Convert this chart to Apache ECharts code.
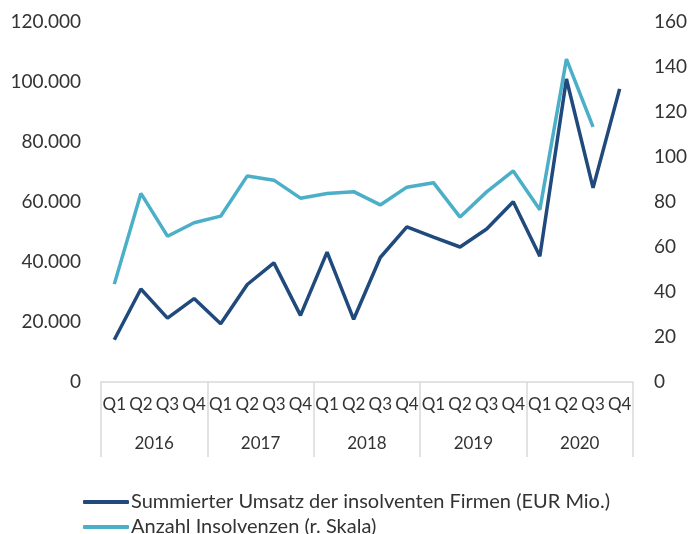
<!DOCTYPE html>
<html>
<head>
<meta charset="utf-8">
<script src="https://cdn.jsdelivr.net/npm/echarts@6/dist/echarts.min.js"></script>
<style>
  html, body { margin: 0; padding: 0; background: #fff; }
  #chart { width: 690px; height: 534px; }
</style>
</head>
<body>
<div id="chart"></div>
<script>
const quarters = ['Q1', 'Q2', 'Q3', 'Q4', 'Q1', 'Q2', 'Q3', 'Q4', 'Q1', 'Q2', 'Q3', 'Q4',
  'Q1', 'Q2', 'Q3', 'Q4', 'Q1', 'Q2', 'Q3', 'Q4']
const years = ['2016', '2017', '2018', '2019', '2020']

// EUR Mio., left axis
const umsatz = [14100, 31000, 21300, 27800, 19400, 32500, 39700, 22200, 43300, 20900, 41500, 51700,
  48300, 45000, 51000, 60100, 41900, 101000, 64700, 97700]
// count, right axis
const insolvenzen = [43.5, 83.8, 64.8, 70.8, 73.7, 91.6, 89.7, 81.7, 83.8, 84.6, 78.7, 86.6,
  88.6, 73.3, 84.5, 93.8, 76.6, 143.5, 113.4, null]

const leftTicks = { min: 0, max: 120000, interval: 20000 }
const rightTicks = { min: 0, max: 160, interval: 20 }

const font = 'Lato, "Open Sans", sans-serif'
const textColor = '#333'
const gridLine = '#d9d9d9'

const chart = echarts.init(document.getElementById('chart'))

chart.setOption({
  animation: false,
  textStyle: { fontFamily: font },
  grid: { left: 101, right: 56, top: 22, bottom: 152 },
  legend: {
    orient: 'vertical',
    left: 78,
    top: 485,
    height: 49,
    itemWidth: 46,
    itemHeight: 4,
    itemGap: 1,
    icon: 'roundRect',
    textStyle: { fontSize: 20, lineHeight: 24, color: textColor, fontFamily: font, padding: [0, 0, 0, -3] },
    data: ['Summierter Umsatz der insolventen Firmen (EUR Mio.)', 'Anzahl Insolvenzen (r. Skala)'],
  },
  xAxis: [
    {
      type: 'category',
      data: quarters,
      boundaryGap: true,
      axisLine: { lineStyle: { color: gridLine, width: 1.5 } },
      axisTick: { show: false },
      axisLabel: { color: textColor, fontSize: 17, margin: 14, interval: 0 },
    },
    {
      type: 'category',
      data: years,
      position: 'bottom',
      boundaryGap: true,
      axisLine: { show: false },
      axisTick: { show: true, length: 75, lineStyle: { color: gridLine, width: 1.5 } },
      axisLabel: { color: textColor, fontSize: 17, margin: 53, interval: 0 },
    },
  ],
  yAxis: [
    {
      type: 'value',
      ...leftTicks,
      splitLine: { show: false },
      axisLine: { show: false },
      axisTick: { show: false },
      axisLabel: {
        color: textColor,
        fontSize: 19,
        margin: 20,
        formatter: v => v === 0 ? '0' : (v / 1000).toFixed(0) + '.000',
      },
    },
    {
      type: 'value',
      ...rightTicks,
      splitLine: { show: false },
      axisLine: { show: false },
      axisTick: { show: false },
      axisLabel: { color: textColor, fontSize: 19, margin: 21 },
    },
  ],
  series: [
    {
      name: 'Summierter Umsatz der insolventen Firmen (EUR Mio.)',
      type: 'line',
      xAxisIndex: 0,
      yAxisIndex: 0,
      data: umsatz,
      symbol: 'none',
      lineStyle: { color: '#1f4a7b', width: 3.5 },
      itemStyle: { color: '#1f4a7b' },
      z: 3,
    },
    {
      name: 'Anzahl Insolvenzen (r. Skala)',
      type: 'line',
      xAxisIndex: 0,
      yAxisIndex: 1,
      data: insolvenzen,
      symbol: 'none',
      lineStyle: { color: '#4bafc8', width: 3.5 },
      itemStyle: { color: '#4bafc8' },
      z: 2,
    },
  ],
})
</script>
</body>
</html>
